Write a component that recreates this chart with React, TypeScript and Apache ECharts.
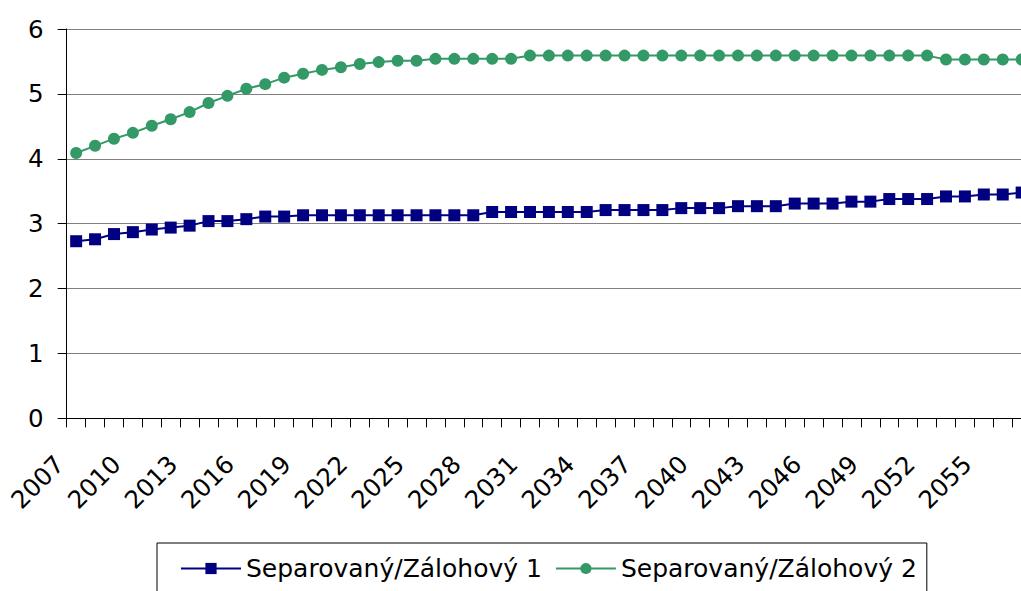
import React, { useEffect, useRef } from "react";
import * as echarts from "echarts";

const years = [
  "2007", "2008", "2009", "2010", "2011", "2012", "2013", "2014", "2015", "2016",
  "2017", "2018", "2019", "2020", "2021", "2022", "2023", "2024", "2025", "2026",
  "2027", "2028", "2029", "2030", "2031", "2032", "2033", "2034", "2035", "2036",
  "2037", "2038", "2039", "2040", "2041", "2042", "2043", "2044", "2045", "2046",
  "2047", "2048", "2049", "2050", "2051", "2052", "2053", "2054", "2055", "2056",
  "2057",
];

const separovany1 = [
  2.73, 2.76, 2.84, 2.87, 2.91, 2.94, 2.97, 3.04, 3.04, 3.07,
  3.11, 3.11, 3.13, 3.13, 3.13, 3.13, 3.13, 3.13, 3.13, 3.13,
  3.13, 3.13, 3.18, 3.18, 3.18, 3.18, 3.18, 3.18, 3.21, 3.21,
  3.21, 3.21, 3.24, 3.24, 3.24, 3.27, 3.27, 3.27, 3.31, 3.31,
  3.31, 3.34, 3.34, 3.38, 3.38, 3.38, 3.42, 3.42, 3.45, 3.45,
  3.48,
];

const separovany2 = [
  4.09, 4.2, 4.31, 4.4, 4.51, 4.61, 4.72, 4.86, 4.97, 5.08,
  5.15, 5.25, 5.31, 5.37, 5.41, 5.46, 5.49, 5.51, 5.51, 5.54,
  5.54, 5.54, 5.54, 5.54, 5.59, 5.59, 5.59, 5.59, 5.59, 5.59,
  5.59, 5.59, 5.59, 5.59, 5.59, 5.59, 5.59, 5.59, 5.59, 5.59,
  5.59, 5.59, 5.59, 5.59, 5.59, 5.59, 5.53, 5.53, 5.53, 5.53,
  5.53,
];

const seriesNames = ["Separovaný/Zálohový 1", "Separovaný/Zálohový 2"];

const FONT = "'DejaVu Sans', 'Liberation Sans', Arial, sans-serif";

export default function App() {
  const ref = useRef<HTMLDivElement>(null);

  useEffect(() => {
    document.body.style.margin = "0";
    const chart = echarts.init(ref.current as HTMLDivElement, null, { renderer: "svg" });
    chart.setOption({
      animation: false,
      backgroundColor: "#ffffff",
      textStyle: { fontFamily: FONT },
      grid: {
        left: 66.7,
        right: -10.1,
        top: 29,
        bottom: 172.6,
        containLabel: false,
        outerBoundsMode: "none",
      },
      legend: {
        left: 157,
        top: 543,
        orient: "horizontal",
        borderColor: "#000000",
        borderWidth: 1,
        padding: [13, 10, 12, 23],
        itemGap: 13,
        itemWidth: 60,
        itemHeight: 14,
        textStyle: { fontFamily: FONT, fontSize: 25, color: "#000000" },
        data: seriesNames,
      },
      xAxis: {
        type: "category",
        data: years,
        boundaryGap: true,
        axisLine: { show: true, lineStyle: { color: "#000000", width: 1 } },
        axisTick: { show: true, interval: 0, length: 9, lineStyle: { color: "#000000" } },
        axisLabel: {
          interval: 2,
          rotate: 45,
          margin: 25,
          fontSize: 24.5,
          fontFamily: FONT,
          color: "#000000",
          padding: [0, 23.6, 0, 0],
        },
        splitLine: { show: false },
      },
      yAxis: {
        type: "value",
        min: 0,
        max: 6,
        interval: 1,
        axisLine: { show: true, lineStyle: { color: "#000000", width: 1 } },
        axisTick: { show: true, length: 9, lineStyle: { color: "#000000" } },
        axisLabel: { margin: 23, fontSize: 24.5, fontFamily: FONT, color: "#000000" },
        splitLine: { show: true, lineStyle: { color: "#808080", width: 1 } },
      },
      series: [
        {
          name: seriesNames[0],
          type: "line",
          data: separovany1,
          symbol: "rect",
          symbolSize: 12,
          showAllSymbol: true,
          itemStyle: { color: "#000080" },
          lineStyle: { color: "#000080", width: 2 },
        },
        {
          name: seriesNames[1],
          type: "line",
          data: separovany2,
          symbol: "circle",
          symbolSize: 12,
          showAllSymbol: true,
          itemStyle: { color: "#339966" },
          lineStyle: { color: "#339966", width: 2 },
        },
      ],
    });
    return () => chart.dispose();
  }, []);

  return <div ref={ref} style={{ width: 1021, height: 591 }} />;
}
